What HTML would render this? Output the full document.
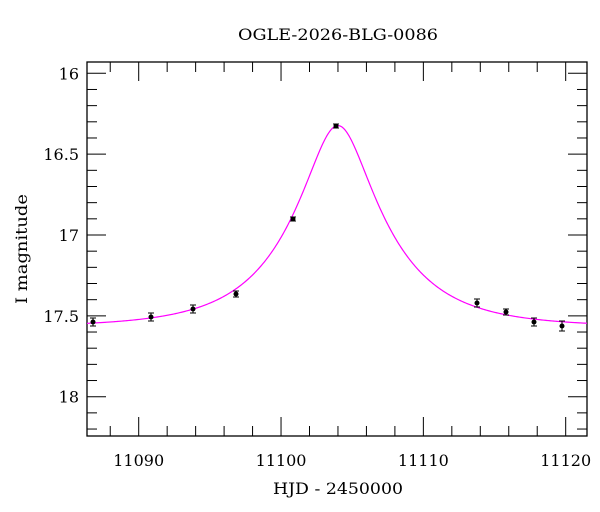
<!DOCTYPE html>
<html><head><meta charset="utf-8"><style>
html,body{margin:0;padding:0;background:#fff;}
svg{display:block;font-family:"DejaVu Serif",serif;}
</style></head><body>
<svg id="s" width="600" height="512" xmlns="http://www.w3.org/2000/svg">
<text x="338" y="40" font-size="16" text-anchor="middle" textLength="200" lengthAdjust="spacingAndGlyphs">OGLE-2026-BLG-0086</text>
<text x="338" y="494" font-size="16" text-anchor="middle" textLength="130" lengthAdjust="spacingAndGlyphs">HJD - 2450000</text>
<text transform="translate(27,249) rotate(-90)" font-size="16" text-anchor="middle" textLength="110" lengthAdjust="spacingAndGlyphs">I magnitude</text>
<g id="g"></g>
</svg>
<script>
var L=87,R=587,T=62,B=436;
function X(t){return 138.7+(t-11090)*14.233;}
function Y(m){return 73.3+(m-16)*161.7;}
var h='';
h+='<rect x="'+L+'" y="'+T+'" width="'+(R-L)+'" height="'+(B-T)+'" fill="none" stroke="#000" stroke-width="1.3"/>';
for(var t=11088;t<=11121;t+=2){var x=X(t);if(x<=L||x>=R)continue;var mj=(t%10==0);var l=mj?19:10;
h+='<line x1="'+x+'" y1="'+B+'" x2="'+x+'" y2="'+(B-l)+'" stroke="#000"/>';
h+='<line x1="'+x+'" y1="'+T+'" x2="'+x+'" y2="'+(T+l)+'" stroke="#000"/>';
if(mj)h+='<text x="'+x+'" y="'+(B+30)+'" font-size="16" text-anchor="middle">'+t+'</text>';}
for(var i=-1;i<=22;i++){var m=16+i*0.1;var y=Y(m);if(y<=T||y>=B)continue;var mj=(i%5==0);var l=mj?19:10;
h+='<line x1="'+L+'" y1="'+y+'" x2="'+(L+l)+'" y2="'+y+'" stroke="#000"/>';
h+='<line x1="'+R+'" y1="'+y+'" x2="'+(R-l)+'" y2="'+y+'" stroke="#000"/>';
if(mj){var s=(Math.round(m*10)/10).toString();h+='<text x="'+(L-8)+'" y="'+(y+6)+'" font-size="16" text-anchor="end">'+s+'</text>';}}
var p='';for(var x=L;x<=R;x+=1){var t=11086.37+(x-L)/14.233;var tau=(t-11104.0)/6.4;var u=Math.sqrt(0.33*0.33+tau*tau);var A=(u*u+2)/(u*Math.sqrt(u*u+4));var m=17.57-2.5*Math.log10(A);p+=(x==L?'M':'L')+x+','+Y(m).toFixed(2);}
h+='<path d="'+p+'" fill="none" stroke="#ff00ff" stroke-width="1.2"/>';
var d=[[93,322,4],[151,317,4],[193,309,4],[236,294,3],[293,219,2],[336,126,2],[477,303,4],[506,312,3],[534,322,4],[562,326,5]];
d.forEach(function(q){h+='<line x1="'+q[0]+'" y1="'+(q[1]-q[2])+'" x2="'+q[0]+'" y2="'+(q[1]+q[2])+'" stroke="#000"/>';
h+='<line x1="'+(q[0]-3)+'" y1="'+(q[1]-q[2])+'" x2="'+(q[0]+3)+'" y2="'+(q[1]-q[2])+'" stroke="#000"/>';
h+='<line x1="'+(q[0]-3)+'" y1="'+(q[1]+q[2])+'" x2="'+(q[0]+3)+'" y2="'+(q[1]+q[2])+'" stroke="#000"/>';
h+='<circle cx="'+q[0]+'" cy="'+q[1]+'" r="2.5" fill="#000"/>';});
document.getElementById('g').innerHTML=h;
</script>
</body></html>
